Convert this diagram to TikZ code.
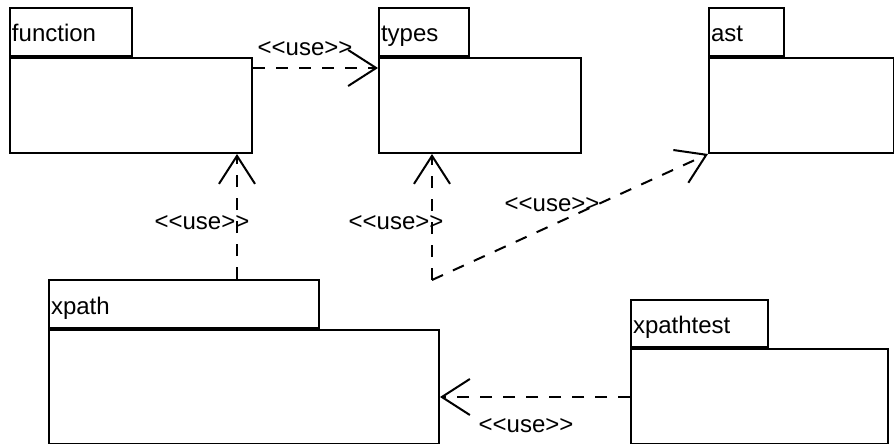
\documentclass[tikz,border=0pt]{standalone}
\usepackage{fontspec}
\setmainfont{Liberation Sans}
\usetikzlibrary{arrows.meta}

\begin{document}
\begin{tikzpicture}[x=1pt,y=-1pt,
  font=\fontsize{24}{28}\selectfont,
  pkgbody/.style={draw, line width=2pt, anchor=north west, inner sep=0pt},
  pkgtab/.style={draw, line width=2pt, anchor=south west, inner xsep=2pt, inner ysep=0pt,
    align=left, text height=20pt, text depth=0pt},
  dep/.style={line width=2pt, dash pattern=on 12pt off 11pt,
    -{Straight Barb[length=28pt, width=36pt, line width=2pt]}},
  lbl/.style={inner sep=0pt}
]
\useasboundingbox (0,0) rectangle (894,444);

% packages: body rectangle with a name tab on its upper-left corner
\node[pkgbody, minimum width=242pt, minimum height=95pt] (fnb) at (9,57) {};
\node[pkgtab, text width=118pt, minimum height=48pt] (fnt) at (fnb.north west) {function};

\node[pkgbody, minimum width=202pt, minimum height=95pt] (tyb) at (378,57) {};
\node[pkgtab, text width=86pt, minimum height=48pt] (tyt) at (tyb.north west) {types};

\node[pkgbody, minimum width=185pt, minimum height=95pt] (asb) at (708,57) {};
\node[pkgtab, text width=71pt, minimum height=48pt] (ast) at (asb.north west) {ast};

\node[pkgbody, minimum width=390pt, minimum height=114pt] (xpb) at (48,329) {};
\node[pkgtab, text width=266pt, minimum height=48pt] (xpt) at (xpb.north west) {xpath};

\node[pkgbody, minimum width=257pt, minimum height=95pt] (xtb) at (630,348) {};
\node[pkgtab, text width=133pt, minimum height=47pt] (xtt) at (xtb.north west) {xpathtest};

% free end shared by the two dependencies towards types and ast
\coordinate (j) at (432,280);

% dependencies
\draw[dep] (fnb.east |- 0,68) -- (tyb.west |- 0,68);
\draw[dep] (237,0 |- xpt.north) -- (237,0 |- fnb.south);
\draw[dep] (j) -- (j |- tyb.south);
\draw[dep] (j) -- (asb.south west);
\draw[dep] (xtb.west |- 0,397) -- (xpb.east |- 0,397);

% stereotype labels
\node[lbl] (l1) at (305,48.5) {{<}{<}use{>}{>}};
\node[lbl] (l2) at (202,223) {{<}{<}use{>}{>}};
\node[lbl] (l3) at (396,223) {{<}{<}use{>}{>}};
\node[lbl] (l4) at (552,205) {{<}{<}use{>}{>}};
\node[lbl] (l5) at (526,426) {{<}{<}use{>}{>}};
\end{tikzpicture}
\end{document}
